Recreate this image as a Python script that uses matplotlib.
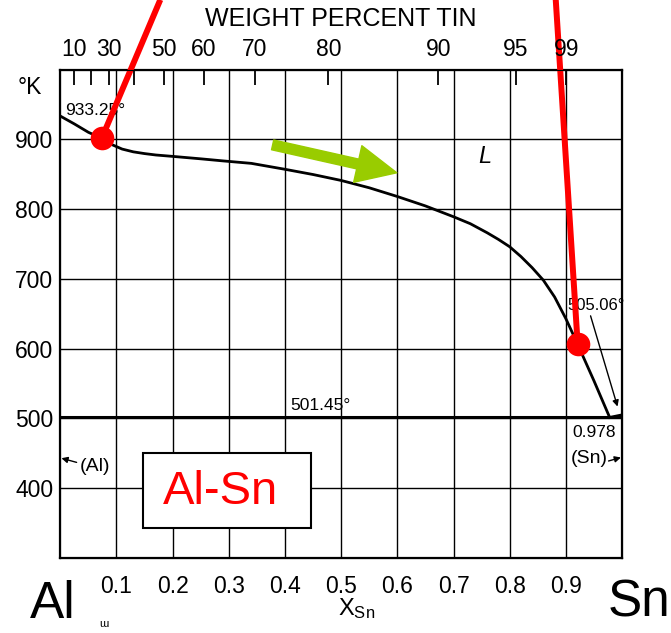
import matplotlib
matplotlib.use("Agg")
import matplotlib.pyplot as plt
from matplotlib.patches import Rectangle

plt.rcParams['font.family'] = ['Liberation Sans', 'DejaVu Sans']
plt.rcParams['mathtext.fontset'] = 'custom'
plt.rcParams['mathtext.rm'] = 'Liberation Sans'
plt.rcParams['mathtext.it'] = 'Liberation Sans:italic'

# Liquidus of the Al-Sn system (mole fraction Sn, temperature in K)
liq_x = [0.0, 0.025, 0.05, 0.075, 0.09, 0.11, 0.13, 0.15, 0.17, 0.20, 0.25,
         0.29, 0.34, 0.40, 0.45, 0.50, 0.55, 0.60, 0.65, 0.70, 0.73, 0.76,
         0.78, 0.80, 0.82, 0.84, 0.86, 0.88, 0.90, 0.92, 0.95, 0.978]
liq_T = [933.25, 922, 910, 901, 893, 886, 882, 879.5, 877.5, 875.5, 872,
         869, 865.5, 857, 849.5, 841, 830.5, 818, 804.5, 789, 779, 766,
         756.5, 746, 732, 716, 698, 674, 643, 608, 554, 501.45]

# Sn-rich solidus segment
sol_x = [0.978, 1.0]
sol_T = [501.45, 505.06]

eutectic_T = 501.45
eutectic_x = 0.978
T_melt_Al = 933.25
T_melt_Sn = 505.06

# Bottom axis (mole fraction) and left axis (temperature)
x_ticks = [0.1, 0.2, 0.3, 0.4, 0.5, 0.6, 0.7, 0.8, 0.9]
x_tick_labels = ['0.1', '0.2', '0.3', '0.4', '0.5', '0.6', '0.7', '0.8', '0.9']
y_ticks = [400, 500, 600, 700, 800, 900]

# Top axis: weight percent tin, placed at the matching mole fraction
wt_tick_x = [0.025, 0.054, 0.087, 0.132, 0.184, 0.255, 0.346, 0.477, 0.673, 0.811, 0.901]
wt_tick_labels = ['10', '', '30', '', '50', '60', '70', '80', '90', '95', '99']

# Highlighted points on the liquidus
mark_x = [0.074, 0.921]
mark_T = [902, 607]
mark_top_x = [0.178, 0.882]
mark_top_T = [1100, 1100]

fig = plt.figure(figsize=(6.71, 6.33), dpi=100)
ax = fig.add_axes([0.0899, 0.1185, 0.8371, 0.7717])
ax.set_xlim(0, 1)
ax.set_ylim(300, 1000)

ax.set_xticks(x_ticks)
ax.set_xticklabels(x_tick_labels)
ax.set_yticks(y_ticks)
ax.tick_params(axis='both', length=0, labelsize=16.5)
ax.tick_params(axis='x', pad=12)
ax.tick_params(axis='y', pad=5)
ax.grid(True, color='black', lw=1.0)
for s in ax.spines.values():
    s.set_linewidth(1.6)

# Top weight-percent axis
top = ax.twiny()
top.set_xlim(0, 1)
top.set_xticks(wt_tick_x)
top.set_xticklabels(wt_tick_labels)
top.tick_params(axis='x', direction='in', length=11, width=1.3,
                labelsize=16.5, pad=6)
top.set_xlabel('WEIGHT PERCENT TIN', fontsize=18, labelpad=9)

# Phase boundaries
ax.plot(liq_x, liq_T, color='black', lw=2.0, zorder=3)
ax.plot(sol_x, sol_T, color='black', lw=2.0, zorder=3)
ax.axhline(eutectic_T, color='black', lw=2.2, zorder=3)

# Labels inside the diagram
ax.text(0.008, 935, f'{T_melt_Al}°', fontsize=12.5, ha='left', va='baseline')
ax.text(0.755, 875, 'L', fontsize=17, style='italic', ha='center', va='center')
ax.text(0.409, 512, f'{eutectic_T}°', fontsize=12.5, ha='left', va='baseline')
ax.text(0.902, 656, f'{T_melt_Sn}°', fontsize=12, ha='left', va='baseline')
ax.text(0.912, 474, str(eutectic_x), fontsize=12.5, ha='left', va='baseline')
ax.text(0.035, 431, '(Al)', fontsize=14, ha='left', va='center')
ax.text(0.908, 442, '(Sn)', fontsize=14, ha='left', va='center')

arr = dict(arrowstyle='-|>', color='black', lw=1.0, mutation_scale=9,
           shrinkA=0, shrinkB=0)
ax.annotate('', xy=(0.002, 443), xytext=(0.029, 437), arrowprops=arr)
ax.annotate('', xy=(0.998, 444), xytext=(0.976, 439), arrowprops=arr)
ax.annotate('', xy=(0.992, 517), xytext=(0.944, 647), arrowprops=arr)

# Green direction arrow along the liquidus
ax.annotate('', xy=(0.599, 852), xytext=(0.378, 892),
            arrowprops=dict(arrowstyle='simple,head_length=0.8,head_width=0.75,tail_width=0.2',
                            color='#99CC00', mutation_scale=36,
                            shrinkA=0, shrinkB=0), zorder=5)

# Red markers with leader lines
for mx, mT, tx, tT in zip(mark_x, mark_T, mark_top_x, mark_top_T):
    ax.plot([mx, tx], [mT, tT], color='#FF0000', lw=4.3, clip_on=False,
            solid_capstyle='butt', zorder=6)
ax.plot(mark_x, mark_T, 'o', color='#FF0000', ms=17, mec='none',
        clip_on=False, zorder=7)

# System label box
ax.add_patch(Rectangle((0.147, 343.5), 0.299, 107.5, fc='white', ec='black',
                       lw=1.5, zorder=8))
ax.text(0.286, 395, 'Al-Sn', fontsize=34, color='#FF0000', ha='center',
        va='center', zorder=9)

# Figure-level annotations
fig.text(0.044, 1 - 87 / 633, '°K', fontsize=16.5, ha='center', va='center')
fig.text(357 / 671, 1 - 609 / 633, r'$\mathrm{X}_{\mathrm{Sn}}$', fontsize=17,
         ha='center', va='center')
fig.text(53 / 671, 1 - 604 / 633, 'Al', fontsize=37, ha='center', va='center')
fig.text(639 / 671, 1 - 603 / 633, 'Sn', fontsize=37, ha='center', va='center')
fig.text(104 / 671, 1 - 624 / 633, 'ɯ', fontsize=8, ha='center', va='center')

fig.savefig('out.png', dpi=100)
